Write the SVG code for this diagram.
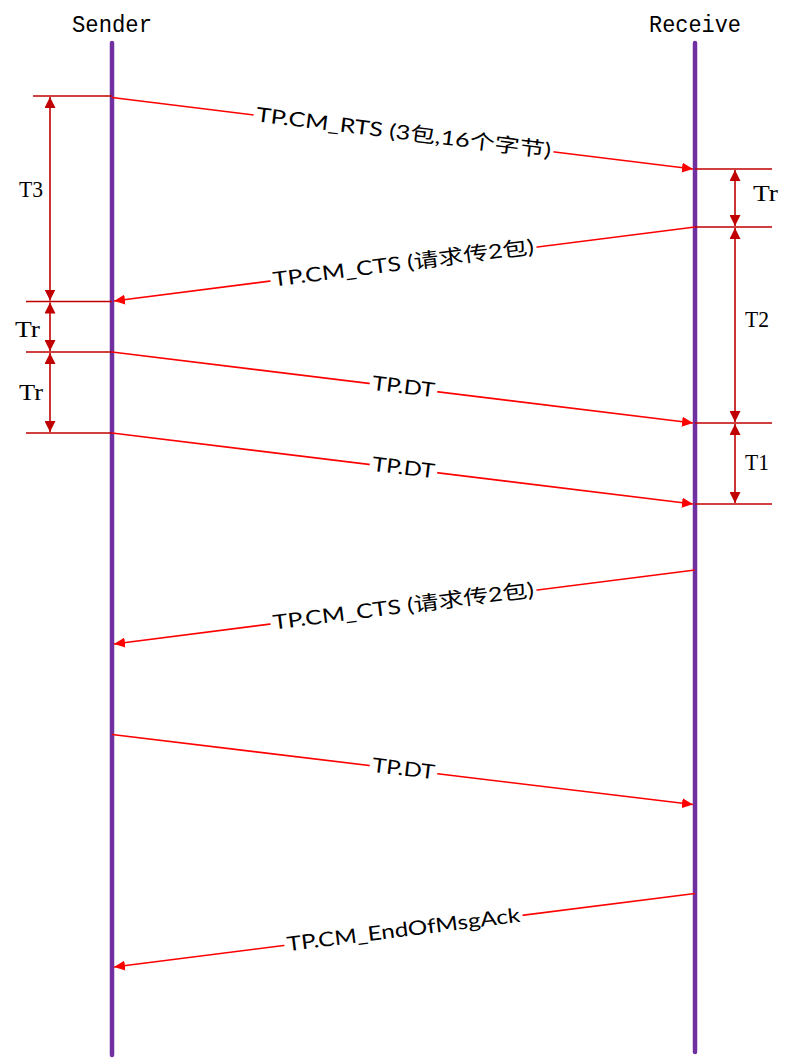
<svg xmlns="http://www.w3.org/2000/svg" width="793" height="1059" viewBox="0 0 793 1059">
<style>
.life{stroke:#7030A0;stroke-width:4.5;stroke-linecap:round;fill:none}
.msg{stroke:#FF0000;stroke-width:1.6;fill:none}
.dim{stroke:#C00000;stroke-width:1.6;fill:none}
.title{font-family:"Liberation Mono",monospace;font-size:24px;fill:#000}
.dlab{font-family:"Liberation Serif",serif;font-size:23px;fill:#000}
.mlab{font-family:Lato,"Noto Sans","Noto Sans CJK SC",sans-serif;font-size:20px;fill:#000;text-anchor:middle}
.bg{fill:#fff}
</style>
<defs>
<marker id="ah" markerUnits="userSpaceOnUse" markerWidth="12" markerHeight="10" refX="11" refY="5" orient="auto">
<path d="M0,0 L11,5 L0,10 z" fill="#FF0000"/>
</marker>
<marker id="dh" markerUnits="userSpaceOnUse" markerWidth="12" markerHeight="11" refX="11" refY="5.5" orient="auto-start-reverse">
<path d="M0,0 L11,5.5 L0,11 z" fill="#C00000"/>
</marker>
</defs>

<g id="sender">
<line class="life" x1="112" y1="43" x2="112" y2="1055"/>
<text class="title" x="72" y="32" textLength="80" lengthAdjust="spacingAndGlyphs">Sender</text>
</g>
<g id="receiver">
<line class="life" x1="695" y1="43" x2="695" y2="1052"/>
<text class="title" x="649" y="32" textLength="92" lengthAdjust="spacingAndGlyphs">Receive</text>
</g>

<g id="dimensions">
<line class="dim" x1="33" y1="96" x2="112" y2="96"/>
<line class="dim" x1="26" y1="301.5" x2="112" y2="301.5"/>
<line class="dim" x1="26" y1="352" x2="112" y2="352"/>
<line class="dim" x1="26" y1="433" x2="112" y2="433"/>
<line class="dim" x1="50" y1="97" x2="50" y2="300.5" marker-start="url(#dh)" marker-end="url(#dh)"/>
<line class="dim" x1="50" y1="302.5" x2="50" y2="351" marker-start="url(#dh)" marker-end="url(#dh)"/>
<line class="dim" x1="50" y1="353" x2="50" y2="432" marker-start="url(#dh)" marker-end="url(#dh)"/>
<line class="dim" x1="695" y1="169" x2="772" y2="169"/>
<line class="dim" x1="695" y1="227" x2="772" y2="227"/>
<line class="dim" x1="695" y1="423" x2="772" y2="423"/>
<line class="dim" x1="695" y1="504" x2="772" y2="504"/>
<line class="dim" x1="735" y1="170" x2="735" y2="226" marker-start="url(#dh)" marker-end="url(#dh)"/>
<line class="dim" x1="735" y1="228" x2="735" y2="422" marker-start="url(#dh)" marker-end="url(#dh)"/>
<line class="dim" x1="735" y1="424" x2="735" y2="503" marker-start="url(#dh)" marker-end="url(#dh)"/>
<text class="dlab" x="19" y="197" textLength="24" lengthAdjust="spacingAndGlyphs">T3</text>
<text class="dlab" x="15" y="337" textLength="25" lengthAdjust="spacingAndGlyphs">Tr</text>
<text class="dlab" x="19" y="400" textLength="24" lengthAdjust="spacingAndGlyphs">Tr</text>
<text class="dlab" x="753" y="201" textLength="25" lengthAdjust="spacingAndGlyphs">Tr</text>
<text class="dlab" x="745" y="327" textLength="24" lengthAdjust="spacingAndGlyphs">T2</text>
<text class="dlab" x="745" y="470" textLength="24" lengthAdjust="spacingAndGlyphs">T1</text>
</g>

<g id="connectors">
<line class="msg" x1="112" y1="97.5" x2="693" y2="169" marker-end="url(#ah)"/>
<line class="msg" x1="695" y1="227" x2="114" y2="301" marker-end="url(#ah)"/>
<line class="msg" x1="112" y1="352" x2="693" y2="423" marker-end="url(#ah)"/>
<line class="msg" x1="112" y1="433" x2="693" y2="504" marker-end="url(#ah)"/>
<line class="msg" x1="695" y1="570" x2="114" y2="644" marker-end="url(#ah)"/>
<line class="msg" x1="112" y1="734.5" x2="693" y2="804.5" marker-end="url(#ah)"/>
<line class="msg" x1="695" y1="893.5" x2="114" y2="967" marker-end="url(#ah)"/>
</g>

<g id="labels">
<g transform="translate(403.5,133.5) rotate(7.0)"><rect class="bg" x="-151" y="-8" width="302" height="16"/><text class="mlab" x="0" y="6" textLength="297" lengthAdjust="spacingAndGlyphs">TP.CM_RTS (3包,16个字节)</text></g>
<g transform="translate(403.5,264) rotate(-7.23)"><rect class="bg" x="-134" y="-8" width="268" height="16"/><text class="mlab" x="0" y="6" textLength="263" lengthAdjust="spacingAndGlyphs">TP.CM_CTS (请求传2包)</text></g>
<g transform="translate(403.5,387.5) rotate(6.94)"><rect class="bg" x="-34" y="-8" width="68" height="16"/><text class="mlab" x="0" y="6" textLength="63" lengthAdjust="spacingAndGlyphs">TP.DT</text></g>
<g transform="translate(403.5,468.5) rotate(6.94)"><rect class="bg" x="-34" y="-8" width="68" height="16"/><text class="mlab" x="0" y="6" textLength="63" lengthAdjust="spacingAndGlyphs">TP.DT</text></g>
<g transform="translate(403.5,607) rotate(-7.23)"><rect class="bg" x="-134" y="-8" width="268" height="16"/><text class="mlab" x="0" y="6" textLength="263" lengthAdjust="spacingAndGlyphs">TP.CM_CTS (请求传2包)</text></g>
<g transform="translate(403.5,769.5) rotate(6.85)"><rect class="bg" x="-34" y="-8" width="68" height="16"/><text class="mlab" x="0" y="6" textLength="63" lengthAdjust="spacingAndGlyphs">TP.DT</text></g>
<g transform="translate(403.5,930.5) rotate(-7.18)"><rect class="bg" x="-120" y="-8" width="240" height="16"/><text class="mlab" x="0" y="6" textLength="235" lengthAdjust="spacingAndGlyphs">TP.CM_EndOfMsgAck</text></g>
</g>
</svg>
